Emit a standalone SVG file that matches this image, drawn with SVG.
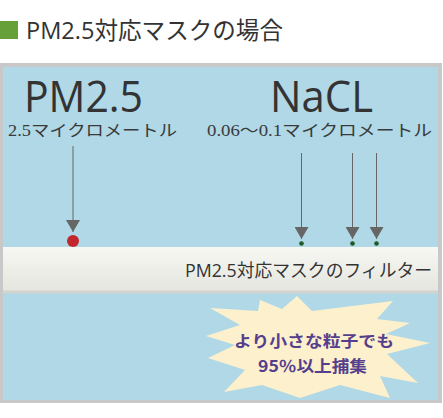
<svg xmlns="http://www.w3.org/2000/svg" width="443" height="418" viewBox="0 0 443 418">
<defs>
<style>
.ttl{font-family:"Open Sans","Noto Sans CJK JP",sans-serif;fill:#333;}
.big{font-family:"Open Sans","Noto Sans CJK JP",sans-serif;font-size:44px;fill:#333;}
.sub{font-family:"Liberation Serif","Noto Sans CJK JP",serif;font-size:16px;fill:#3a3a3a;}
.conn{stroke:#666;stroke-width:1;fill:none;}
.burst{font-family:"Noto Sans CJK JP",sans-serif;font-weight:bold;font-size:16px;fill:#553f8d;}
</style>
<linearGradient id="band" x1="0" y1="0" x2="0" y2="1">
<stop offset="0" stop-color="#f7f7f3"/>
<stop offset="1" stop-color="#e5e5df"/>
</linearGradient>
<marker id="arr" viewBox="0 0 12 14" refX="12" refY="7" markerWidth="12" markerHeight="14" markerUnits="userSpaceOnUse" orient="auto">
<path d="M0,0 L12,7 L0,14 Z" fill="#666"/>
</marker>
</defs>
<rect x="0" y="0" width="443" height="418" fill="#fff"/>
<g id="title">
<rect x="0" y="21" width="18" height="18" fill="#65a038"/>
<text class="ttl" x="26" y="39" font-size="24" textLength="257" lengthAdjust="spacingAndGlyphs">PM2.5対応マスクの場合</text>
</g>
<g id="panel">
<rect x="0" y="63" width="442" height="340" fill="#c8c8c8"/>
<rect x="3" y="67" width="435" height="333" fill="#b0d8e6"/>
</g>
<g id="filter">
<rect x="3" y="247" width="435" height="46" fill="url(#band)"/>
<rect x="3" y="290.5" width="435" height="3" fill="#d4d4ce"/>
<text class="ttl" x="185" y="277" font-size="18" textLength="247" lengthAdjust="spacingAndGlyphs">PM2.5対応マスクのフィルター</text>
</g>
<g id="pm25">
<text class="big" x="24" y="112" textLength="119" lengthAdjust="spacingAndGlyphs">PM2.5</text>
<text class="sub" x="8" y="136" textLength="169" lengthAdjust="spacingAndGlyphs">2.5マイクロメートル</text>
<circle cx="73" cy="241" r="6" fill="#c1272d"/>
</g>
<g id="nacl">
<text class="big" x="270" y="112" textLength="103" lengthAdjust="spacingAndGlyphs">NaCL</text>
<text class="sub" x="207" y="136" textLength="225" lengthAdjust="spacingAndGlyphs">0.06〜0.1マイクロメートル</text>
<circle cx="301.5" cy="243.5" r="2.3" fill="#1e5a26"/>
<circle cx="352.5" cy="243.5" r="2.3" fill="#1e5a26"/>
<circle cx="376.5" cy="243.5" r="2.3" fill="#1e5a26"/>
</g>
<g id="connectors">
<line class="conn" x1="73" y1="146" x2="73" y2="232" marker-end="url(#arr)"/>
<line class="conn" x1="301.5" y1="153" x2="301.5" y2="239" marker-end="url(#arr)"/>
<line class="conn" x1="352.5" y1="153" x2="352.5" y2="239" marker-end="url(#arr)"/>
<line class="conn" x1="376.5" y1="153" x2="376.5" y2="239" marker-end="url(#arr)"/>
</g>
<g id="starburst">
<polygon fill="#fdf0cc" points="297,296 312,311 393,301 377,319 410,323 386,334 430,343 387,354 418,383 380,376 390,398 340,385 300,398 262,385 224,392 245,370 208,358 235,345 206,336 240,325 210,308 258,311 260,300 282,309"/>
<text class="burst" x="234" y="347" textLength="160" lengthAdjust="spacingAndGlyphs">より小さな粒子でも</text>
<text class="burst" x="258" y="372" textLength="109" lengthAdjust="spacingAndGlyphs">95％以上捕集</text>
</g>
</svg>
